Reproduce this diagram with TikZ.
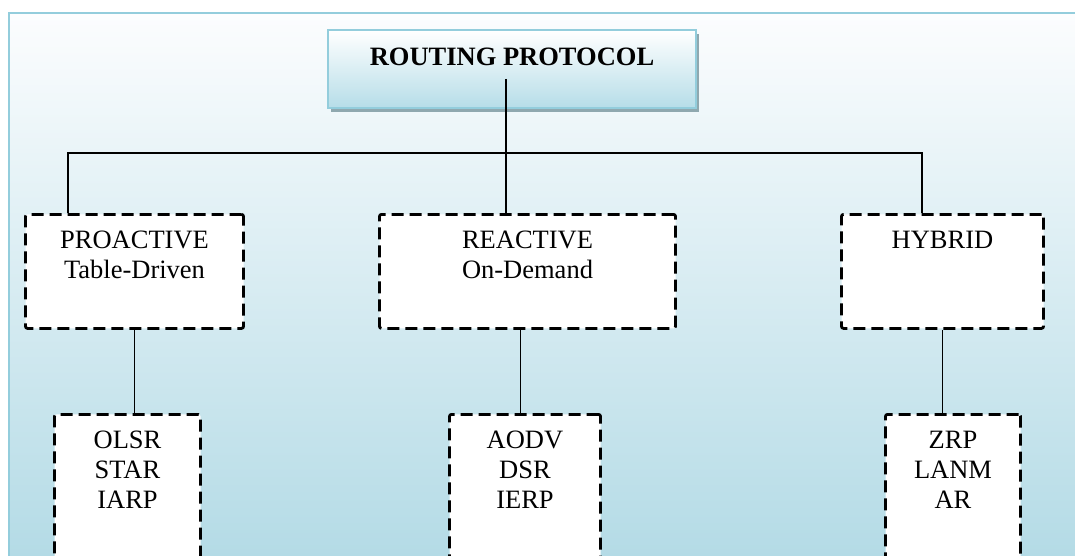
\documentclass[tikz,border=0pt]{standalone}
\usepackage{fontspec}
\setmainfont{Liberation Serif}
\usetikzlibrary{positioning,shadows}

\definecolor{framecol}{RGB}{147,205,220}
\definecolor{bgtop}{RGB}{252,253,254}
\definecolor{bgbot}{RGB}{180,219,230}
\definecolor{rootbot}{RGB}{182,221,232}
\definecolor{shadecol}{RGB}{143,168,175}

\begin{document}
\begin{tikzpicture}[x=1pt, y=-1pt]

% Set the page and the background
\clip (0,0) rectangle (1075,556);
\fill[white] (0,0) rectangle (1075,556);
\shade[top color=bgtop, bottom color=bgbot] (9,13) rectangle (1075,556);
\draw[framecol, line width=2.5pt] (9,560) -- (9,13) -- (1080,13);

% Define styles for boxes, texts and lines
\tikzstyle{root} = [draw=framecol, line width=2pt, top color=white, bottom color=rootbot,
  minimum width=368pt, minimum height=78pt, inner sep=0pt,
  general shadow={fill=shadecol, shadow xshift=3pt, shadow yshift=-4pt}]
\tikzstyle{group} = [draw=black, fill=white, line width=2.8pt, dash pattern=on 12pt off 6pt,
  rounded corners=2pt, minimum height=114pt, inner sep=0pt, anchor=north]
\tikzstyle{leaf} = [group, minimum height=180pt]
\tikzstyle{txt} = [align=center, inner sep=0pt, font=\fontsize{26.5}{30}\selectfont]
\tikzstyle{link} = [line width=1.6pt]

% Top box
\node[root] (root) at (512,69) {};

% Second level
\node[group, minimum width=218pt] (pro) at (134.5,213) {};
\node[group, minimum width=296pt] (reac) at (527.5,213) {};
\node[group, minimum width=202pt] (hyb) at (942.5,213) {};

% Third level
\node[leaf, minimum width=146pt] (olsr) at (127.5,413) {};
\node[leaf, minimum width=151pt] (aodv) at (525,413) {};
\node[leaf, minimum width=135pt] (zrp) at (953,413) {};

% Lines between the levels
\coordinate (stem) at (506,79);
\coordinate (busL) at (68,153);
\coordinate (busR) at (922,153);
\draw[link] (busL |- pro.north) -- (busL) -- (busR) -- (busR |- hyb.north);
\draw[link] (stem) -- (stem |- reac.north);
\draw[link] (pro.south) -- (pro.south |- olsr.north);
\draw[link] ([xshift=-7pt]reac.south) -- ([xshift=-7pt]reac.south |- aodv.north);
\draw[link] (hyb.south) -- (hyb.south |- zrp.north);

% Texts
\node[txt, font=\fontsize{26.5}{30}\selectfont\bfseries, below=19pt of root.north] (root-t) {ROUTING PROTOCOL};
\node[txt, below=18pt of pro.north] (pro-t) {PROACTIVE\\Table-Driven};
\node[txt, below=18pt of reac.north] (reac-t) {REACTIVE\\On-Demand};
\node[txt, below=18pt of hyb.north] (hyb-t) {HYBRID};
\node[txt, below=18pt of olsr.north] (olsr-t) {OLSR\\STAR\\IARP};
\node[txt, below=18pt of aodv.north] (aodv-t) {AODV\\DSR\\IERP};
\node[txt, below=18pt of zrp.north] (zrp-t) {ZRP\\LANM\\AR};

\end{tikzpicture}
\end{document}
